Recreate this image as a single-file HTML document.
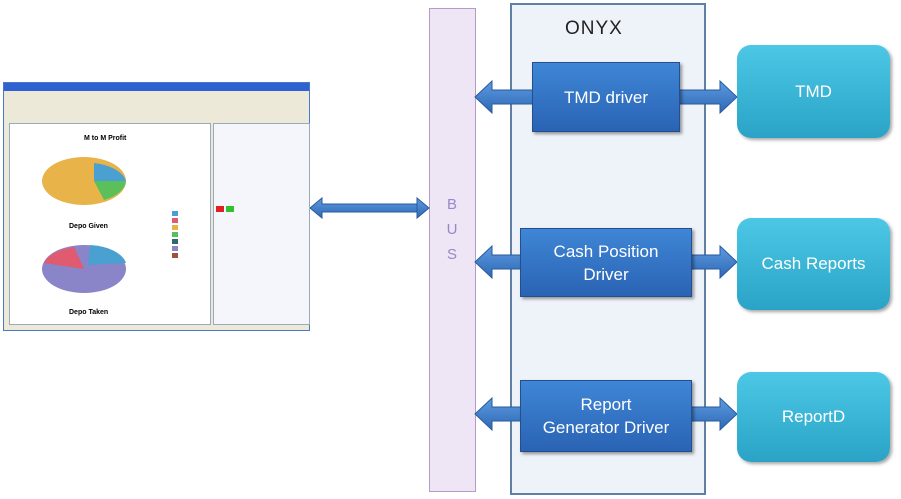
<!DOCTYPE html>
<html><head><style>
body{margin:0;width:901px;height:499px;background:#fff;position:relative;overflow:hidden;font-family:"Liberation Sans",sans-serif}
.a{position:absolute}
.drv{position:absolute;background:linear-gradient(#3f86d6,#2a63b4);border:1px solid #234f91;box-shadow:2px 2px 3px rgba(0,0,0,.4);color:#fff;font-size:17px;display:flex;align-items:center;justify-content:center;text-align:center;line-height:23px}
.ext{position:absolute;background:linear-gradient(#4cc8e6,#2aa3c6);border-radius:14px;box-shadow:2px 2px 3px rgba(0,0,0,.35);color:#fff;font-size:17px;display:flex;align-items:center;justify-content:center}
</style></head><body>
<!-- BUS -->
<div class="a" style="left:429px;top:8px;width:45px;height:482px;background:#efe6f5;border:1px solid #b79acb"></div>
<div class="a" style="left:442px;top:192px;width:20px;color:#9a86c9;font-size:15px;text-align:center;line-height:25px">B<br>U<br>S</div>
<!-- ONYX -->
<div class="a" style="left:510px;top:3px;width:192px;height:488px;background:#eef3f9;border:2px solid #5f7fa3"></div>
<div class="a" style="left:565px;top:18px;font-size:19px;letter-spacing:1px;color:#222">ONYX</div>
<svg class="a" style="left:0;top:0" width="901" height="499">
<defs><linearGradient id="g" x1="0" y1="0" x2="0" y2="1"><stop offset="0" stop-color="#5d9be0"/><stop offset="1" stop-color="#2e68b6"/></linearGradient></defs>
<g fill="url(#g)" stroke="#2a5a9a" stroke-width="1">
<polygon points="475,97 492,81 492,90 540,90 540,104 492,104 492,113"/>
<polygon points="670,90 720,90 720,81 737,97 720,113 720,104 670,104"/>
<polygon points="475,262 492,246 492,255 530,255 530,269 492,269 492,278"/>
<polygon points="680,255 720,255 720,246 737,262 720,278 720,269 680,269"/>
<polygon points="475,414 492,398 492,407 530,407 530,421 492,421 492,430"/>
<polygon points="680,407 720,407 720,398 737,414 720,430 720,421 680,421"/>
<polygon points="310,208 322,198 322,204 417,204 417,212 322,212 322,218"/>
<polygon points="417,198 429,208 417,218"/>
</g>
</svg>
<div class="drv" style="left:532px;top:62px;width:146px;height:68px">TMD driver</div>
<div class="drv" style="left:520px;top:228px;width:170px;height:67px">Cash Position<br>Driver</div>
<div class="drv" style="left:520px;top:380px;width:170px;height:70px">Report<br>Generator Driver</div>
<div class="ext" style="left:737px;top:45px;width:153px;height:93px">TMD</div>
<div class="ext" style="left:737px;top:218px;width:153px;height:92px">Cash Reports</div>
<div class="ext" style="left:737px;top:372px;width:153px;height:90px">ReportD</div>
<!-- screenshot -->
<div class="a" style="left:3px;top:82px;width:305px;height:247px;background:#ece9d8;border:1px solid #4a78c8">
 <div class="a" style="left:0;top:0;width:305px;height:8px;background:#2f61d0"></div>
 <div class="a" style="left:5px;top:40px;width:200px;height:200px;background:#fff;border:1px solid #9ab"></div>
 <div class="a" style="left:209px;top:40px;width:95px;height:200px;background:#f4f6fb;border:1px solid #9ab"></div>
 <div class="a" style="left:80px;top:52px;font-size:7px;font-weight:bold">M to M Profit</div>
 <div class="a" style="left:65px;top:140px;font-size:7px;font-weight:bold">Depo Given</div>
 <div class="a" style="left:65px;top:226px;font-size:7px;font-weight:bold">Depo Taken</div>
 <svg class="a" style="left:0;top:0" width="305" height="247">
  <ellipse cx="80" cy="98" rx="42" ry="24" fill="#e8b44a"/>
  <path d="M90,80 A40,22 0 0 1 122,98 L90,98Z" fill="#4aa0d0"/>
  <path d="M90,98 L122,98 A40,22 0 0 1 100,117Z" fill="#5cc05a"/>
  <ellipse cx="80" cy="186" rx="42" ry="24" fill="#8a84c8"/>
  <path d="M80,186 L40,180 A40,22 0 0 1 70,164Z" fill="#e05a70"/>
  <path d="M84,182 L86,162 A40,22 0 0 1 122,180Z" fill="#4aa0d0"/>
  <g fill="#4aa0d0"><rect x="168" y="128" width="6" height="5"/><rect x="168" y="135" width="6" height="5" fill="#e05a70"/><rect x="168" y="142" width="6" height="5" fill="#e8b44a"/><rect x="168" y="149" width="6" height="5" fill="#5cc05a"/><rect x="168" y="156" width="6" height="5" fill="#2a6a70"/><rect x="168" y="163" width="6" height="5" fill="#8a84c8"/><rect x="168" y="170" width="6" height="5" fill="#a05040"/></g>
  <rect x="212" y="123" width="8" height="6" fill="#e02020"/><rect x="222" y="123" width="8" height="6" fill="#30c030"/>
 </svg>
</div>
</body></html>
